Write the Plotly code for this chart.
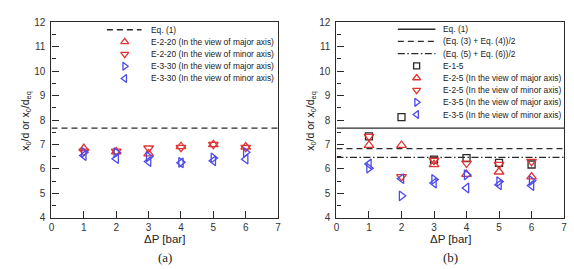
import plotly.graph_objects as go

# ---------------- data ----------------
P = [1, 2, 3, 4, 5, 6]
x_line = [0, 7]

# panel (a)
a_eq1 = 7.67
a_e220_major = [6.84, 6.70, 6.62, 6.92, 7.00, 6.90]
a_e220_minor = [6.72, 6.72, 6.85, 6.88, 7.00, 6.88]
a_e330_major = [6.68, 6.67, 6.50, 6.27, 6.45, 6.68]
a_e330_minor = [6.55, 6.42, 6.30, 6.25, 6.33, 6.40]
a_labels = ["Eq. (1)",
            "E-2-20 (In the view of major axis)",
            "E-2-20 (In the view of minor axis)",
            "E-3-30 (In the view of major axis)",
            "E-3-30 (In the view of minor axis)"]

# panel (b)
b_eq1 = 7.67
b_eq34 = 6.83
b_eq56 = 6.47
b_e15 = [7.33, 8.12, 6.38, 6.44, 6.25, 6.18]
b_e25_major = [6.97, 6.97, 6.18, 5.78, 5.88, 5.68]
b_e25_minor = [7.33, 5.68, 6.35, 6.23, 6.18, 6.30]
b_e35_major = [6.03, 4.90, 5.57, 5.76, 5.48, 5.52]
b_e35_minor = [6.20, 5.60, 5.42, 5.22, 5.35, 5.32]
b_labels = ["Eq. (1)",
            "(Eq. (3) + Eq. (4))/2",
            "(Eq. (5) + Eq. (6))/2",
            "E-1-5",
            "E-2-5 (In the view of major axis)",
            "E-2-5 (In the view of minor axis)",
            "E-3-5 (In the view of major axis)",
            "E-3-5 (In the view of minor axis)"]

x_ticks = [0, 1, 2, 3, 4, 5, 6, 7]
y_ticks = [4, 5, 6, 7, 8, 9, 10, 11, 12]

# ---------------- style ----------------
W, H = 574, 269
RED = "#e23434"
BLUE = "#4b4bef"
BLACK = "#2a2a2a"
FONT = "Liberation Sans, Arial, sans-serif"
DASH = "6px,4px"
DASHDOT = "7px,2.5px,1.5px,2.5px"
LW = 1.3
MS = 8.5
MLW = 1.3

# plot areas in pixels
A_L, A_R = 49, 278
B_L, B_R = 337, 567
TOP, BOT = 18, 221

fig = go.Figure()


def line_trace(y, dash, xa, ya):
    return go.Scatter(x=x_line, y=[y, y], mode="lines", xaxis=xa, yaxis=ya,
                      line=dict(color=BLACK, width=LW, dash=dash),
                      showlegend=False, hoverinfo="skip")


def mk_trace(y, symbol, color, xa, ya, size=MS):
    return go.Scatter(x=P, y=y, mode="markers", xaxis=xa, yaxis=ya,
                      marker=dict(symbol=symbol, size=size, color=color,
                                  line=dict(color=color, width=MLW)),
                      showlegend=False)


# panel (a)
fig.add_trace(line_trace(a_eq1, DASH, "x", "y"))
fig.add_trace(mk_trace(a_e220_major, "triangle-up-open", RED, "x", "y"))
fig.add_trace(mk_trace(a_e220_minor, "triangle-down-open", RED, "x", "y"))
fig.add_trace(mk_trace(a_e330_major, "triangle-right-open", BLUE, "x", "y"))
fig.add_trace(mk_trace(a_e330_minor, "triangle-left-open", BLUE, "x", "y"))

# panel (b)
fig.add_trace(line_trace(b_eq1, "solid", "x2", "y2"))
fig.add_trace(line_trace(b_eq34, DASH, "x2", "y2"))
fig.add_trace(line_trace(b_eq56, DASHDOT, "x2", "y2"))
fig.add_trace(mk_trace(b_e15, "square-open", BLACK, "x2", "y2", size=7))
fig.add_trace(mk_trace(b_e25_major, "triangle-up-open", RED, "x2", "y2"))
fig.add_trace(mk_trace(b_e25_minor, "triangle-down-open", RED, "x2", "y2"))
fig.add_trace(mk_trace(b_e35_major, "triangle-right-open", BLUE, "x2", "y2"))
fig.add_trace(mk_trace(b_e35_minor, "triangle-left-open", BLUE, "x2", "y2"))

# ---------------- custom legends (pixel overlay axis) ----------------
shapes = []
annotations = []
ROW = 12.65


def legend(entries, x0, x1, xm, xt, ytop):
    for i, (label, kind, style, color) in enumerate(entries):
        yy = ytop + i * ROW
        if kind == "line":
            shapes.append(dict(type="line", xref="x3", yref="y3", x0=x0, x1=x1,
                               y0=yy, y1=yy,
                               line=dict(color=BLACK, width=LW, dash=style)))
        else:
            fig.add_trace(go.Scatter(x=[xm], y=[yy], mode="markers", xaxis="x3", yaxis="y3",
                                     marker=dict(symbol=style,
                                                 size=6 if style == "square-open" else 7,
                                                 color=color,
                                                 line=dict(color=color, width=MLW)),
                                     showlegend=False, hoverinfo="skip"))
        annotations.append(dict(xref="x3", yref="y3", x=xt, y=yy, text=label,
                                showarrow=False, xanchor="left", yanchor="middle",
                                font=dict(family=FONT, size=8.4, color="#222")))


legend([(a_labels[0], "line", DASH, BLACK),
        (a_labels[1], "mk", "triangle-up-open", RED),
        (a_labels[2], "mk", "triangle-down-open", RED),
        (a_labels[3], "mk", "triangle-right-open", BLUE),
        (a_labels[4], "mk", "triangle-left-open", BLUE)],
       105, 140, 123, 148, 25.7)

legend([(b_labels[0], "line", "solid", BLACK),
        (b_labels[1], "line", DASH, BLACK),
        (b_labels[2], "line", DASHDOT, BLACK),
        (b_labels[3], "mk", "square-open", BLACK),
        (b_labels[4], "mk", "triangle-up-open", RED),
        (b_labels[5], "mk", "triangle-down-open", RED),
        (b_labels[6], "mk", "triangle-right-open", BLUE),
        (b_labels[7], "mk", "triangle-left-open", BLUE)],
       399, 437, 418, 443, 25.2)

# axis titles & panel labels
ytitle = "x<sub>0</sub>/d or x<sub>0</sub>/d<sub>eq</sub>"
for cx, yc_x, lab in [((A_L + A_R) / 2, 23, "(a)"), ((B_L + B_R) / 2, 311, "(b)")]:
    annotations.append(dict(xref="x3", yref="y3", x=yc_x, y=(TOP + BOT) / 2 + 1, text=ytitle,
                            textangle=-90, showarrow=False, xanchor="center", yanchor="middle",
                            font=dict(family=FONT, size=10.5, color="#222")))
    annotations.append(dict(xref="x3", yref="y3", x=cx, y=243, text="ΔP [bar]",
                            showarrow=False, xanchor="center", yanchor="middle",
                            font=dict(family=FONT, size=11.5, color="#222")))
    annotations.append(dict(xref="x3", yref="y3", x=cx, y=262, text=lab,
                            showarrow=False, xanchor="center", yanchor="middle",
                            font=dict(family="Liberation Serif, Times New Roman, serif",
                                      size=13, color="#222")))

axis_common = dict(showgrid=False, zeroline=False, showline=True, mirror=True,
                   linecolor=BLACK, linewidth=1.3, ticks="inside", tickwidth=1.2,
                   tickcolor=BLACK, tickfont=dict(family=FONT, size=10, color="#333"))

xa = dict(axis_common, range=[0, 7], tickvals=x_ticks, ticklen=7)
ya = dict(axis_common, range=[4, 12], tickvals=y_ticks, ticklen=7, ticklabelstandoff=3,
          minor=dict(ticks="inside", ticklen=4, tickwidth=1, tickcolor=BLACK, dtick=0.5,
                     tick0=4, showgrid=False))

fig.update_layout(
    width=W, height=H,
    margin=dict(l=0, r=0, t=0, b=0),
    paper_bgcolor="white", plot_bgcolor="rgba(0,0,0,0)",
    showlegend=False,
    xaxis=dict(xa, domain=[A_L / W, A_R / W], anchor="y"),
    yaxis=dict(ya, domain=[1 - BOT / H, 1 - TOP / H], anchor="x"),
    xaxis2=dict(xa, domain=[B_L / W, B_R / W], anchor="y2"),
    yaxis2=dict(ya, domain=[1 - BOT / H, 1 - TOP / H], anchor="x2"),
    xaxis3=dict(domain=[0, 1], range=[0, W], visible=False, fixedrange=True, anchor="y3"),
    yaxis3=dict(domain=[0, 1], range=[H, 0], visible=False, fixedrange=True, anchor="x3"),
    shapes=shapes,
    annotations=annotations,
)

fig.write_html("out.html")
